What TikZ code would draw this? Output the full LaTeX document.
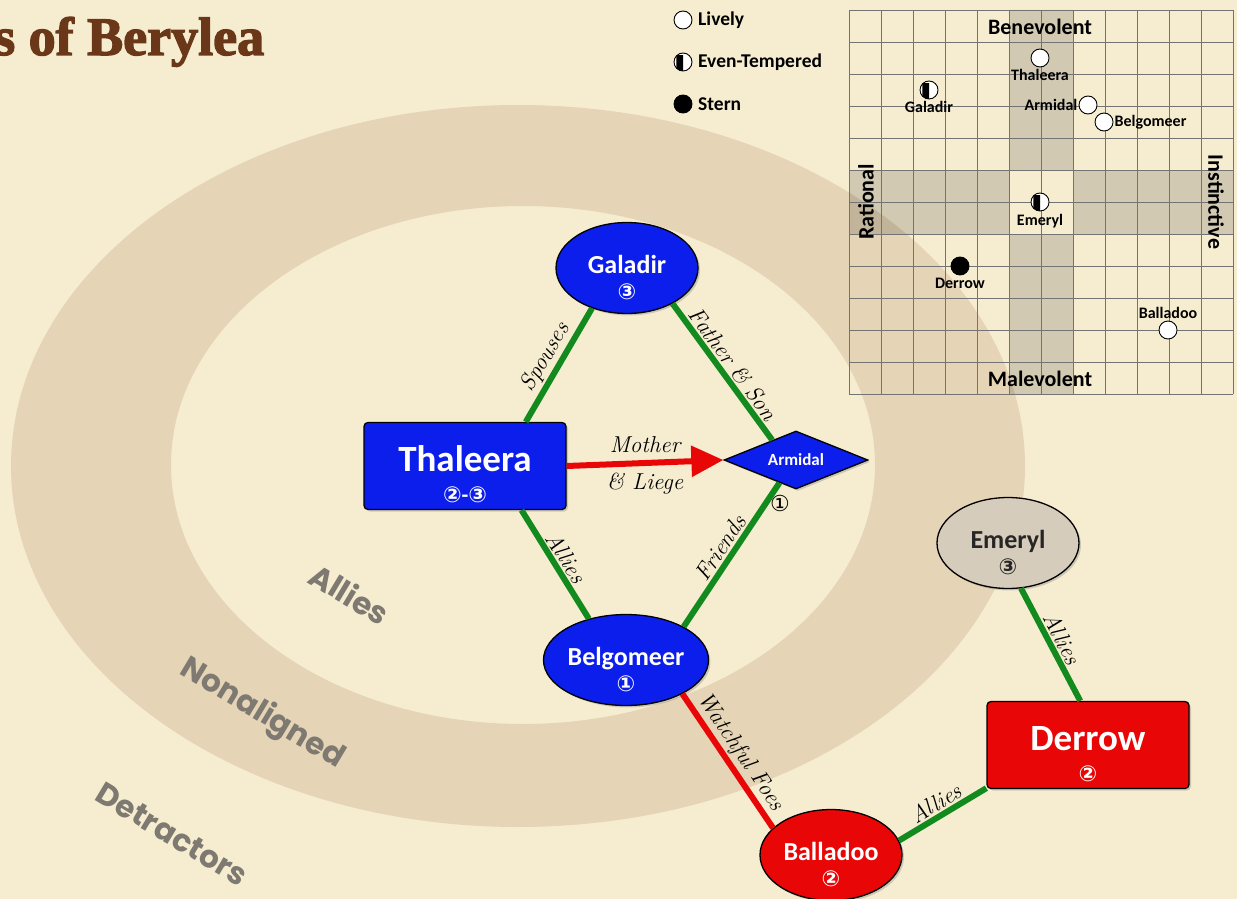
\documentclass[tikz,border=0pt]{standalone}
\usepackage{fontspec}
\usetikzlibrary{shapes.geometric, arrows.meta, shadows}

\newfontfamily\calfont{Carlito}
\newfontfamily\circfont{DejaVu Sans}
\newfontfamily\ringfont{Poppins}
\newfontfamily\titlefont{Liberation Serif}[BoldFeatures={FakeBold=2.5}]

\definecolor{parchment}{RGB}{246,237,209}
\definecolor{ringtan}{RGB}{229,212,181}
\definecolor{nodeblue}{RGB}{12,30,235}
\definecolor{nodered}{RGB}{232,6,6}
\definecolor{nodetan}{RGB}{214,204,188}
\definecolor{tiegreen}{RGB}{18,138,30}
\definecolor{titlebrown}{RGB}{106,56,24}
\definecolor{ringtext}{RGB}{126,121,113}

\newcommand{\rank}[1]{{\circfont\fontsize{22}{24}\selectfont #1}}
\newcommand{\ovalstrut}{\rule{0pt}{38pt}}
\newcommand{\boxstrut}{\rule{0pt}{42pt}}

\begin{document}
\begin{tikzpicture}[x=1pt, y=-1pt,
    person/.style={draw=black, line width=1.3pt, text=white, inner sep=0pt, align=center,
      drop shadow={shadow xshift=2pt, shadow yshift=-2pt, opacity=.35}},
    oval/.style={person, ellipse, minimum width=142pt, minimum height=87pt,
      font=\calfont\bfseries\fontsize{26}{26}\selectfont},
    box/.style={person, rectangle, rounded corners=4pt, minimum width=202pt, minimum height=87pt,
      font=\calfont\bfseries\fontsize{37}{31}\selectfont},
    tie/.style={line width=6pt, draw=tiegreen},
    foe/.style={line width=6pt, draw=nodered},
    lbl/.style={midway, sloped, above, inner sep=2pt, font=\itshape\fontsize{23}{25}\selectfont},
    ringlbl/.style={text=ringtext, rotate=-31, font=\ringfont\bfseries\fontsize{31}{33}\selectfont},
    dot/.style={circle, draw=black, line width=0.9pt, fill=white, minimum size=18pt, inner sep=0pt},
    dotlbl/.style={font=\calfont\bfseries\fontsize{16}{17}\selectfont, inner sep=1pt},
    axislbl/.style={font=\calfont\bfseries\fontsize{22}{24}\selectfont, inner sep=0pt},
    keylbl/.style={anchor=west, font=\calfont\bfseries\fontsize{19.5}{21}\selectfont, inner sep=0pt}]
  \useasboundingbox (0,0) rectangle (1237,899);
  \fill[parchment] (0,0) rectangle (1237,899);

  % Rings of alignment
  \fill[ringtan, even odd rule] (518,466) ellipse[x radius=507, y radius=361]
    (523,465) ellipse[x radius=352, y radius=259];
  \node[ringlbl] (ringallies) at (350,594) {Allies};
  \node[ringlbl] (ringnon) at (262,714) {Nonaligned};
  \node[ringlbl] (ringdet) at (172,834) {Detractors};

  % Title
  \node[anchor=base west, inner sep=0pt, text=titlebrown] (title) at (-6,55)
    {\titlefont\bfseries\fontsize{54}{58}\selectfont s of Berylea};

  % Temperament key
  \node[dot] (keylively) at (683,20) {};
  \node[dot] (keyeven) at (683,62) {};
  \node[dot, fill=black] (keystern) at (683,104) {};
  \begin{scope}
    \clip (keyeven.north west) rectangle (keyeven.south);
    \fill (keyeven) circle[radius=9pt];
  \end{scope}
  \node[keylbl] at (698,20) {Lively};
  \node[keylbl] at (698,62) {Even-Tempered};
  \node[keylbl] at (698,104) {Stern};

  % Alignment chart
  \fill[black, opacity=.15, even odd rule] (1009,10) rectangle (1073,394)
    (849,170) rectangle (1233,234);
  \foreach \i in {0,...,12} {
    \draw[black!55, line width=0.8pt] (849+32*\i,10) -- (849+32*\i,394);
    \draw[black!55, line width=0.8pt] (849,10+32*\i) -- (1233,10+32*\i);
  }
  \node[axislbl] (bene) at (1040,27) {Benevolent};
  \node[axislbl] (male) at (1040,379) {Malevolent};
  \node[axislbl, rotate=90] (rati) at (866,202) {Rational};
  \node[axislbl, rotate=-90] (inst) at (1216,202) {Instinctive};

  \node[dot] (ptha) at (1040,58) {};
  \node[dot] (pgal) at (929,90) {};
  \node[dot] (parm) at (1088,105) {};
  \node[dot] (pbel) at (1104,122) {};
  \node[dot] (peme) at (1040,202) {};
  \node[dot, fill=black] (pder) at (960,266) {};
  \node[dot] (pbal) at (1168,330) {};
  \foreach \p in {pgal, peme} {
    \begin{scope}
      \clip (\p.north west) rectangle (\p.south);
      \fill (\p) circle[radius=9pt];
    \end{scope}
  }
  \node[dotlbl, below=1pt] at (ptha.south) {Thaleera};
  \node[dotlbl, below=1pt] at (pgal.south) {Galadir};
  \node[dotlbl, anchor=east] at (parm.west) {Armidal};
  \node[dotlbl, anchor=west] at (pbel.east) {Belgomeer};
  \node[dotlbl, below=2pt] at (peme.south) {Emeryl};
  \node[dotlbl, below=1pt] at (pder.south) {Derrow};
  \node[dotlbl, above=1pt] at (pbal.north) {Balladoo};

  % Characters
  \node[oval, fill=nodeblue] (gal) at (627,268) {\ovalstrut Galadir\\\rank{③}};
  \node[box, fill=nodeblue] (tha) at (465,466)
    {\boxstrut Thaleera\\\rank{②}{\fontsize{22}{24}\selectfont -}\rank{③}};
  \node[person, diamond, fill=nodeblue, minimum width=144pt, minimum height=58pt, aspect=2.5,
    font=\calfont\bfseries\fontsize{17}{18}\selectfont] (arm) at (796,460) {Armidal};
  \node[inner sep=0pt] (armrank) at (780,503) {\rank{①}};
  \node[oval, fill=nodeblue] (bel) at (626,660) {\ovalstrut Belgomeer\\\rank{①}};
  \node[oval, fill=nodetan, text=black!85] (eme) at (1008,543) {\ovalstrut Emeryl\\\rank{③}};
  \node[box, fill=nodered] (der) at (1088,745) {\boxstrut Derrow\\\rank{②}};
  \node[oval, fill=nodered] (bal) at (831,855) {\ovalstrut Balladoo\\\rank{②}};

  % Relations
  \draw[tie] (tha.36) -- (gal.229) node[lbl] {Spouses};
  \draw[tie] (gal.-38) -- (arm.140) node[lbl] {Father \& Son};
  \draw[tie] (tha.-38) -- (bel.132) node[lbl] {Allies};
  \draw[tie] (bel.30) -- (arm.234) node[lbl] {Friends};
  \draw[foe] (bel.-31) -- (bal.155) node[lbl] {Watchful Foes};
  \draw[tie] (bal.12) -- (der.203) node[lbl] {Allies};
  \draw[tie] (eme.-74) -- (der.100) node[lbl] {Allies};
  \draw[foe, -{Triangle[length=32pt, width=30pt]}] (tha.east) -- (arm.west)
    node[midway, above=4pt, font=\itshape\fontsize{23}{25}\selectfont] {Mother}
    node[midway, below=4pt, font=\itshape\fontsize{23}{25}\selectfont] {\& Liege};
\end{tikzpicture}
\end{document}
